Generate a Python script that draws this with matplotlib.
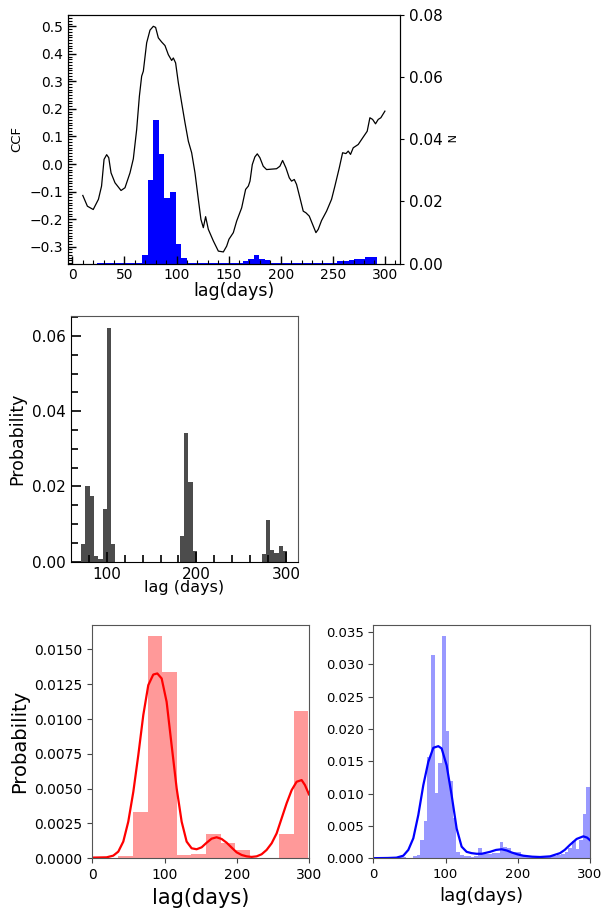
import numpy as np
import matplotlib
matplotlib.use("Agg")
import matplotlib.pyplot as plt
from matplotlib.ticker import AutoMinorLocator, MultipleLocator

# ---------------- data ----------------
# top panel: CCF curve
ccf_lag = [10, 14.4, 20, 25, 28, 30.4, 32.9, 34.9, 37.1, 40.9, 46.7, 50.5, 55.3, 58.5,
           61.7, 64.3, 66.5, 68.1, 71.3, 74.5, 77.7, 79.9, 82.5, 85.7, 88.9, 92.1, 95.3,
           96.9, 99.1, 101.7, 104.9, 108.1, 111.3, 114.5, 117.7, 120.9, 123.4, 125.7,
           127.9, 130.5, 135.3, 140.1, 144.9, 148.1, 150.3, 154.5, 157.7, 162.5, 166.3,
           168.9, 170.5, 172.7, 175.2, 177.5, 180, 183.2, 186.4, 196, 199.2, 201.8, 205,
           208.2, 210.4, 213, 215.2, 218.4, 221.6, 224.2, 227.4, 230.6, 233.8, 236,
           239.2, 244, 248.8, 252, 256.2, 259.4, 262.6, 264.8, 267, 269.6, 274.4, 279.2,
           283, 285.6, 288.2, 291, 293.6, 296.1, 300]
ccf_val = [-0.114, -0.153, -0.165, -0.128, -0.080, 0.017, 0.034, 0.023, -0.032, -0.068,
           -0.096, -0.086, -0.032, 0.019, 0.125, 0.246, 0.319, 0.337, 0.440, 0.486, 0.500,
           0.496, 0.458, 0.443, 0.430, 0.397, 0.376, 0.385, 0.367, 0.295, 0.222, 0.150,
           0.083, 0.041, -0.032, -0.128, -0.201, -0.231, -0.191, -0.237, -0.279, -0.316,
           -0.319, -0.298, -0.273, -0.249, -0.207, -0.159, -0.092, -0.080, -0.062, -0.002,
           0.026, 0.037, 0.023, -0.008, -0.020, -0.017, -0.008, 0.013, -0.014, -0.050,
           -0.062, -0.056, -0.074, -0.122, -0.171, -0.177, -0.189, -0.219, -0.249, -0.237,
           -0.205, -0.171, -0.128, -0.080, -0.014, 0.041, 0.038, 0.047, 0.035, 0.059,
           0.071, 0.098, 0.119, 0.168, 0.162, 0.146, 0.162, 0.168, 0.192]

# top panel: lag distribution (N)
top_edges = np.linspace(24.0, 292.0, 51)
top_n = ([0.0002] * 8 +
         [0.0027, 0.027, 0.0463, 0.0353, 0.0211, 0.0229, 0.0063, 0.0019] +
         [0.0002] * 10 +
         [0.0008, 0.0015, 0.0027, 0.0013, 0.0010, 0.0003, 0.0003, 0.0003, 0.0002, 0.0003] +
         [0.0001] * 7 +
         [0.0007, 0.0008, 0.0011, 0.0016, 0.0016, 0.0020, 0.0020])

# middle panel
mid_edges = np.linspace(71.6, 301.1, 49)
mid_prob = ([0.0047, 0.0201, 0.0175, 0.0015, 0.0006, 0.0140, 0.0621, 0.0047] +
            [0.0] * 15 +
            [0.0068, 0.0342, 0.0212, 0.0028] +
            [0.0] * 15 +
            [0.0020, 0.0111, 0.0031, 0.0024, 0.0042, 0.0028])

# bottom-left (red)
red_edges = np.linspace(36, 299, 14)
red_prob = [0.00019, 0.00333, 0.01596, 0.01337, 0.00024, 0.00031, 0.00175, 0.0011,
            0.0006, 0.0, 0.0, 0.00175, 0.01057]
red_kde_x = [0, 19.8, 29, 36, 42.9, 49.8, 56.8, 63.7, 70.6, 77.5, 84.4, 90, 96, 102.9,
             109.8, 116.8, 123.7, 130.6, 137.5, 144.4, 151.4, 158.3, 165.2, 172.1, 179,
             186, 192.9, 199.8, 206.7, 213.7, 220.6, 227.5, 234.4, 241.3, 248.3, 255.2,
             262.1, 269, 276, 282.9, 289.8, 294.4, 300]
red_kde_y = [0.00005, 0.00007, 0.00019, 0.00048, 0.0012, 0.00263, 0.00478, 0.00742,
             0.01029, 0.01244, 0.0132, 0.01328, 0.01292, 0.01124, 0.00813, 0.00502,
             0.00263, 0.0012, 0.00072, 0.00065, 0.00079, 0.00112, 0.00141, 0.00151,
             0.00139, 0.00112, 0.00077, 0.00043, 0.00024, 0.00014, 0.0001, 0.00014,
             0.00029, 0.0006, 0.00108, 0.00179, 0.00287, 0.00395, 0.0049, 0.0055,
             0.00562, 0.00526, 0.00459]

# bottom-right (blue)
blue_edges = np.arange(5, 301, 5)
blue_prob = ([0.00015] * 8 +
             [0.0, 0.0, 0.0003, 0.0005, 0.0028, 0.0057, 0.0156, 0.0315, 0.0101, 0.0148,
              0.0344, 0.0197, 0.0120, 0.0063, 0.0010, 0.0005, 0.0004, 0.0003, 0.0002,
              0.0003, 0.0016, 0.0007, 0.0007, 0.0007, 0.0008, 0.0008, 0.0025, 0.0018,
              0.0016, 0.0010, 0.0009, 0.0009, 0.0005, 0.0004, 0.0003, 0.0002, 0.0002,
              0.0002, 0.0002, 0.0003, 0.0004, 0.0004, 0.0005, 0.0006, 0.0009, 0.0016,
              0.0026, 0.0014, 0.0028, 0.0068, 0.0111])
blue_kde_x = [0, 20, 32, 41.5, 48.5, 55.4, 62.3, 69.2, 76.1, 83.1, 90, 94.6, 101.5, 108.4,
              115.4, 122.3, 129.2, 136, 143, 150, 161.6, 170, 177.8, 185, 191.6, 200,
              207.8, 220, 230.8, 244.7, 258.5, 265, 272.4, 281.6, 290.8, 296, 300]
blue_kde_y = [0.00002, 0.00005, 0.0001, 0.0004, 0.0013, 0.0031, 0.0067, 0.0113, 0.0149,
              0.0171, 0.01735, 0.017, 0.0144, 0.0098, 0.0046, 0.0018, 0.001, 0.0008,
              0.0007, 0.0007, 0.001, 0.0013, 0.0014, 0.0012, 0.0009, 0.0006, 0.0004,
              0.00025, 0.0002, 0.0003, 0.0008, 0.0013, 0.0021, 0.003, 0.0034, 0.0032,
              0.0028]

# ---------------- figure ----------------
W, H = 605, 908
fig = plt.figure(figsize=(W / 100, H / 100), dpi=100)


def rect(l, t, r, b):
    return [l / W, 1 - b / H, (r - l) / W, (b - t) / H]


# ---- top panel ----
ax1 = fig.add_axes(rect(67.7, 15, 400, 263.5))
ax1.plot(ccf_lag, ccf_val, color='black', lw=0.9, zorder=3)
ax1.set_xlim(-4.5, 314.5)
ax1.set_ylim(-0.361, 0.541)
ax1.xaxis.set_major_locator(MultipleLocator(50))
ax1.xaxis.set_minor_locator(AutoMinorLocator(5))
ax1.yaxis.set_major_locator(MultipleLocator(0.1))
ax1.yaxis.set_minor_locator(AutoMinorLocator(10))
ax1.tick_params(which='both', direction='in', top=False, right=False, labelsize=10)
ax1.tick_params(which='major', length=6, width=1)
ax1.tick_params(which='minor', length=3, width=0.8)
ax1.set_xlabel('lag(days)', fontsize=12.5, labelpad=0)
ax1.set_ylabel('CCF', fontsize=9.5)

ax2 = ax1.twinx()
ax2.bar(top_edges[:-1], top_n, width=np.diff(top_edges), align='edge',
        color='blue', linewidth=0)
ax2.set_ylim(0, 0.08)
ax2.yaxis.set_major_locator(MultipleLocator(0.02))
ax2.tick_params(labelsize=11, length=3)
ax2.set_ylabel('N', fontsize=8, rotation=270, labelpad=8)
ax1.set_zorder(ax2.get_zorder() + 1)
ax1.patch.set_visible(False)

# ---- middle panel ----
ax3 = fig.add_axes(rect(70.7, 315.7, 297.7, 561.7))
ax3.bar(mid_edges[:-1], mid_prob, width=np.diff(mid_edges), align='edge',
        color='black', alpha=0.7, linewidth=0)
ax3.set_xlim(60.1, 312.6)
ax3.set_ylim(0, 0.0654)
ax3.xaxis.set_major_locator(MultipleLocator(100))
ax3.xaxis.set_minor_locator(AutoMinorLocator(5))
ax3.yaxis.set_major_locator(MultipleLocator(0.02))
ax3.yaxis.set_minor_locator(AutoMinorLocator(4))
ax3.tick_params(which='both', direction='in', top=False, right=False, labelsize=11)
ax3.tick_params(which='major', length=7, width=1.2)
ax3.tick_params(which='minor', length=5, width=1.2)
ax3.set_xlabel('lag (days)', fontsize=11.5, labelpad=-1)
ax3.set_ylabel('Probability', fontsize=12.5)
for s in ('top', 'right'):
    ax3.spines[s].set_color('#555555')

# ---- bottom-left ----
ax4 = fig.add_axes(rect(92.3, 625, 309, 858.3))
ax4.bar(red_edges[:-1], red_prob, width=np.diff(red_edges), align='edge',
        color='red', alpha=0.4, linewidth=0)
ax4.plot(red_kde_x, red_kde_y, color='red', lw=1.6)
ax4.set_xlim(0, 300)
ax4.set_ylim(0, 0.01676)
ax4.xaxis.set_major_locator(MultipleLocator(100))
ax4.tick_params(labelsize=10, color='#444444')
ax4.set_xlabel('lag(days)', fontsize=15)
ax4.set_ylabel('Probability', fontsize=14)

# ---- bottom-right ----
ax5 = fig.add_axes(rect(373.3, 625, 590, 858.3))
ax5.bar(blue_edges[:-1], blue_prob, width=np.diff(blue_edges), align='edge',
        color='blue', alpha=0.4, linewidth=0)
ax5.plot(blue_kde_x, blue_kde_y, color='blue', lw=1.6)
ax5.set_xlim(0, 300)
ax5.set_ylim(0, 0.0361)
ax5.xaxis.set_major_locator(MultipleLocator(100))
ax5.yaxis.set_major_locator(MultipleLocator(0.005))
ax5.tick_params(labelsize=9.5, color='#444444')
ax5.set_xlabel('lag(days)', fontsize=13)

for a in (ax4, ax5):
    for s in a.spines.values():
        s.set_color('#555555')

fig.savefig('out.png', dpi=100)
